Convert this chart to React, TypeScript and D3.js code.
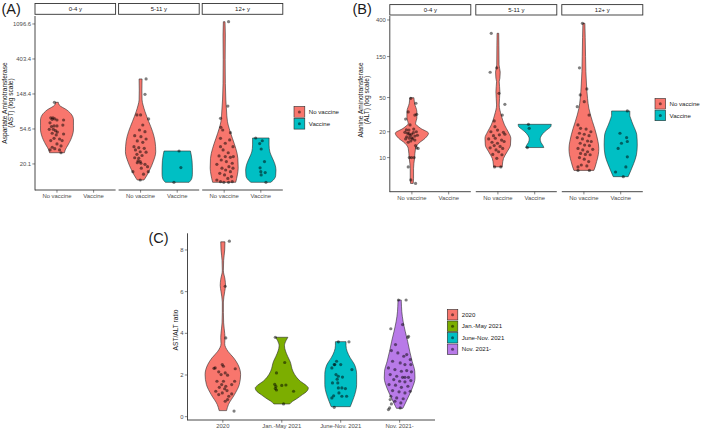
import React from 'react';
import * as d3 from 'd3';

// [value, half-width relative to the widest possible violin]
type Profile = [number, number][];
// [horizontal jitter in category steps, value]
type Jitter = [number, number][];

const FONT = '"Liberation Sans", Arial, Helvetica, sans-serif';

const ageGroups = ['0-4 y', '5-11 y', '12+ y'];
const vaccineStatus = ['No vaccine', 'Vaccine'];
const vaccineColors = ['#F8766D', '#00BFC4'];
const periods = ['2020', 'Jan.-May 2021', 'June-Nov. 2021', 'Nov. 2021-'];
const periodColors = ['#F8766D', '#7CAE00', '#00BFC4', '#B87AE8'];

const astTicks = [20.1, 54.6, 148.4, 403.4, 1096.6];
const altTicks = [10, 20, 50, 150, 400];
const ratioTicks = [0, 2, 4, 6, 8];
const astLimits = [9.55, 1377];
const altLimits = [4.01, 445];
const ratioLimits = [-0.16, 8.8];

// ---- AST (log scale) ----
const astYoungNoVacShape: Profile = [[117, 0.08], [108, 0.14], [94, 0.6], [81.5, 0.9], [70.6, 1.0], [61, 1.0], [53, 1.0], [46, 0.94], [40, 0.83], [34.6, 0.67], [30, 0.5], [27.7, 0.45]];
const astYoungNoVacDots: Jitter = [[-0.07, 117], [-0.17, 75], [-0.11, 75], [-0.06, 73], [-0.13, 72], [0, 70.6], [0.18, 70.6], [-0.19, 65], [-0.08, 59.5], [0, 59.5], [-0.15, 58.5], [0.16, 61], [-0.21, 54], [-0.1, 54], [-0.04, 52], [0.01, 50], [-0.13, 48.3], [0.18, 47.3], [-0.02, 46], [-0.08, 41.8], [0.07, 41], [0.14, 39.2], [-0.17, 39.2], [0, 35.6], [0.11, 33.6], [-0.13, 32.4], [-0.06, 31.1], [-0.19, 30], [0.07, 30], [0.11, 27.7]];

const astChildNoVacShape: Profile = [[228, 0.09], [166, 0.08], [125, 0.09], [108, 0.15], [89.5, 0.27], [67, 0.5], [50.6, 0.73], [38, 0.88], [28.5, 0.92], [21.5, 0.77], [16.9, 0.55], [13.3, 0.27], [12.7, 0.2]];
const astChildNoVacDots: Jitter = [[0.15, 228], [0.12, 147], [0.22, 72.7], [-0.1, 81.5], [0.0, 81.5], [0.06, 61.2], [-0.03, 53], [0.12, 50.6], [-0.16, 45.1], [0.01, 43.8], [0.15, 41], [-0.09, 38.8], [0.06, 37.3], [-0.18, 32.9], [-0.05, 32], [0.1, 31.4], [-0.14, 30], [-0.01, 28.5], [0.15, 28.1], [-0.1, 26.5], [0.04, 25.6], [-0.16, 24], [-0.05, 23.7], [-0.07, 21.9], [-0.01, 21.5], [-0.09, 20.8], [0.01, 20.5], [0.12, 19.9], [0.19, 18.6], [0.02, 17.8], [-0.21, 16.1], [0.08, 15], [0.21, 16.1], [-0.01, 12.7]];
const astChildVacShape: Profile = [[29.1, 0.8], [26, 0.85], [22, 0.9], [18, 0.92], [15, 0.92], [13.2, 0.88], [12.4, 0.8], [11.9, 0.72]];
const astChildVacDots: Jitter = [[0.05, 29.1], [0.1, 18.1], [-0.09, 11.9]];

const astTeenNoVacShape: Profile = [[1170, 0.05], [800, 0.07], [400, 0.06], [200, 0.07], [125, 0.1], [94, 0.14], [67, 0.2], [55.7, 0.3], [41.8, 0.5], [31.5, 0.7], [23.6, 0.83], [17.8, 0.85], [14.7, 0.8], [11.9, 0.7]];
const astTeenNoVacDots: Jitter = [[0.12, 1170], [0.1, 105], [-0.1, 74], [-0.09, 57.3], [-0.04, 53], [0.17, 49.1], [-0.1, 41.8], [0.15, 39.9], [0.03, 36.3], [-0.1, 32.9], [0.24, 32.9], [-0.03, 30], [0.11, 27.7], [-0.14, 25.3], [0.03, 24.8], [0.17, 24.3], [-0.08, 22.5], [0.06, 21.5], [0.22, 20.5], [-0.2, 19.9], [0.13, 18.6], [-0.06, 17.8], [0.04, 16.9], [0.17, 16.1], [-0.12, 15.4], [0.01, 14.7], [0.2, 14], [0.1, 13.3], [-0.1, 12.1], [-0.01, 11.9], [0.12, 11.9], [0.22, 12.1], [-0.2, 12.7], [0.24, 17.8], [0.25, 24.8]];
const astTeenVacShape: Profile = [[42.2, 0.5], [34.6, 0.5], [28.3, 0.55], [23.8, 0.7], [20.1, 0.85], [16.9, 0.92], [14.3, 0.9], [12.7, 0.76], [11.9, 0.6]];
const astTeenVacDots: Jitter = [[-0.14, 42.2], [0.04, 39], [-0.03, 36], [0.01, 30.8], [0.1, 21.5], [-0.02, 18], [0.0, 16.1], [0.12, 15.7], [0.01, 14.7], [0.14, 11.9]];

// ---- ALT (log scale) ----
const altYoungNoVacShape: Profile = [[49.8, 0.12], [42.9, 0.16], [34.2, 0.3], [28.7, 0.3], [25.1, 0.22], [21.9, 0.53], [19.2, 1.0], [16.8, 0.8], [14.7, 0.42], [12.8, 0.22], [9.8, 0.16], [7.5, 0.1], [5.74, 0.1], [5.0, 0.08]];
const altYoungNoVacDots: Jitter = [[-0.03, 49], [0.11, 42.9], [-0.17, 28.1], [0.08, 31.3], [0.13, 31.9], [-0.05, 24], [-0.08, 20.9], [-0.19, 19.7], [-0.12, 19.2], [-0.01, 18.7], [0.12, 20], [-0.14, 17.5], [-0.07, 16.8], [0.02, 16.5], [-0.17, 16.5], [-0.03, 15.6], [0.08, 16], [-0.1, 15.1], [0.1, 13.8], [0.13, 13], [0.17, 12.8], [-0.07, 10], [-0.01, 10], [0.06, 10], [-0.1, 7.8], [-0.03, 5.5], [0.1, 5.0], [-0.05, 18], [0.04, 19.5], [0.08, 17.8], [-0.15, 21], [0.15, 18.2], [0.0, 17], [-0.08, 19], [0.05, 21.5], [-0.1, 34]];

const altChildNoVacShape: Profile = [[280, 0.05], [200, 0.06], [120, 0.07], [99, 0.14], [84, 0.12], [76.5, 0.08], [58.5, 0.12], [41, 0.08], [31.3, 0.2], [24, 0.4], [20, 0.62], [16.8, 0.78], [14, 0.76], [11.7, 0.56], [9.8, 0.34], [8.2, 0.27], [7.8, 0.26]];
const altChildNoVacDots: Jitter = [[-0.18, 280], [-0.21, 98.5], [-0.03, 111], [0.03, 56], [0.19, 41.7], [0.12, 31.3], [-0.1, 26.7], [-0.08, 22.9], [-0.19, 20], [-0.01, 20.9], [0.15, 19.7], [-0.12, 18], [0.04, 18.4], [0.19, 18.7], [-0.25, 16.5], [-0.07, 16.8], [0.1, 16], [-0.16, 15.1], [-0.01, 14.7], [0.17, 15.4], [-0.1, 13.8], [0.06, 13.5], [-0.21, 13], [0.13, 12.8], [-0.05, 12.3], [0.02, 11.7], [-0.14, 10.9], [0.11, 10.8], [-0.03, 9.8], [-0.09, 7.8], [0.08, 7.8]];
const altChildVacShape: Profile = [[24.4, 1.0], [23, 0.97], [21.5, 0.8], [20, 0.6], [18, 0.4], [16.5, 0.33], [15, 0.38], [13.8, 0.5], [13.1, 0.55]];
const altChildVacDots: Jitter = [[-0.17, 24.4], [-0.15, 21.9], [-0.2, 13.1]];

const altTeenNoVacShape: Profile = [[366, 0.06], [250, 0.08], [150, 0.1], [100, 0.12], [70, 0.16], [49, 0.22], [37.5, 0.3], [31.3, 0.4], [26.2, 0.52], [21.9, 0.65], [18.4, 0.76], [15.4, 0.85], [12.8, 0.9], [10.8, 0.87], [9.0, 0.77], [7.8, 0.68], [7.1, 0.6]];
const altTeenNoVacDots: Jitter = [[-0.04, 366], [-0.12, 111], [0.08, 63], [-0.1, 53.6], [-0.18, 39.2], [0.01, 44.8], [0.14, 31.3], [-0.16, 24], [-0.09, 21.9], [0.06, 21.5], [0.19, 20], [-0.12, 19.2], [0.01, 18.7], [0.14, 18], [-0.18, 17.1], [-0.04, 16.5], [0.1, 15.6], [0.2, 15.4], [-0.1, 14.7], [0.02, 14], [0.15, 13.8], [-0.16, 12.8], [-0.03, 12.3], [0.1, 11.7], [0.24, 12.5], [-0.09, 11.2], [0.04, 10.9], [0.17, 10.8], [-0.12, 10], [0.01, 9.6], [0.13, 9.0], [-0.07, 8.2], [0.08, 8.0], [-0.16, 7.8], [-0.16, 7.1], [0.15, 7.1]];
const altTeenVacShape: Profile = [[34.9, 0.55], [31, 0.55], [28.7, 0.6], [24, 0.75], [20.5, 0.9], [18.4, 0.97], [14, 1.0], [10.8, 0.95], [8.5, 0.78], [7, 0.6], [6.0, 0.45]];
const altTeenVacDots: Jitter = [[0.18, 34.9], [-0.02, 19.2], [0.16, 17.1], [0.18, 15.4], [0.02, 14.7], [-0.07, 12.8], [0.18, 10.2], [0.14, 7.8], [-0.14, 6.8], [0.07, 6.0]];

// ---- AST/ALT ratio by period ----
const ratio2020Shape: Profile = [[8.39, 0.08], [8.0, 0.07], [7.5, 0.03], [7.0, 0.02], [6.6, 0.08], [6.3, 0.1], [6.0, 0.07], [5.5, 0.02], [5.0, 0.02], [4.5, 0.03], [4.0, 0.07], [3.8, 0.08], [3.5, 0.07], [3.14, 0.19], [2.82, 0.41], [2.5, 0.57], [2.02, 0.67], [1.54, 0.62], [1.06, 0.44], [0.58, 0.21], [0.29, 0.14]];
const ratio2020Dots: Jitter = [[0.11, 8.42], [0.04, 6.26], [0.05, 3.78], [-0.01, 2.5], [0.01, 2.42], [-0.13, 2.34], [0.21, 2.3], [-0.07, 2.15], [0.04, 2.1], [-0.03, 2.02], [0.08, 1.99], [-0.1, 1.7], [0.01, 1.7], [0.2, 1.7], [-0.02, 1.54], [0.05, 1.46], [0.15, 1.54], [-0.06, 1.41], [0.03, 1.34], [-0.12, 1.22], [0.07, 1.25], [-0.01, 1.14], [0.15, 1.09], [0.1, 0.98], [-0.07, 1.06], [0.08, 0.82], [0.04, 0.74], [0.19, 0.27], [-0.15, 2.32]];
const ratioEarly2021Shape: Profile = [[3.81, 0.23], [3.65, 0.16], [3.4, 0.1], [3.15, 0.14], [2.9, 0.22], [2.66, 0.31], [2.18, 0.42], [1.9, 0.55], [1.7, 0.7], [1.5, 0.92], [1.38, 1.0], [1.2, 0.93], [1.06, 0.78], [0.85, 0.55], [0.74, 0.41], [0.61, 0.3]];
const ratioEarly2021Dots: Jitter = [[-0.11, 3.81], [0.05, 2.6], [-0.09, 2.1], [-0.12, 1.55], [-0.1, 1.45], [-0.11, 1.35], [-0.09, 1.28], [0.07, 1.52], [0.2, 1.22], [0.03, 0.61], [0.0, 1.5]];
const ratioLate2021Shape: Profile = [[3.6, 0.2], [3.4, 0.2], [3.14, 0.24], [2.82, 0.36], [2.5, 0.52], [2.02, 0.6], [1.54, 0.6], [1.06, 0.53], [0.74, 0.44], [0.48, 0.36]];
const ratioLate2021Dots: Jitter = [[-0.04, 3.59], [0.14, 3.59], [-0.07, 2.66], [-0.11, 2.5], [-0.15, 2.34], [-0.08, 2.02], [-0.04, 1.94], [0.19, 2.26], [-0.14, 1.62], [-0.05, 1.62], [-0.04, 1.38], [0.02, 1.38], [0.08, 1.35], [-0.03, 1.14], [-0.15, 0.9], [0.02, 0.98], [0.1, 0.98], [-0.11, 0.45], [-0.1, 2.5], [0.0, 2.5], [-0.06, 1.8], [0.03, 1.9], [-0.12, 1.0]];
const ratioOmicronShape: Profile = [[5.6, 0.06], [5.3, 0.07], [5.06, 0.08], [4.58, 0.13], [4.1, 0.21], [3.62, 0.3], [3.14, 0.38], [2.66, 0.47], [2.18, 0.57], [1.86, 0.58], [1.38, 0.48], [0.9, 0.31], [0.5, 0.16], [0.4, 0.12]];
const ratioOmicronDots: Jitter = [[-0.02, 5.6], [0.11, 5.6], [-0.15, 4.22], [0.05, 4.42], [0.15, 3.86], [0.14, 3.8], [-0.07, 3.46], [-0.14, 3.17], [-0.03, 3.06], [0.07, 2.9], [0.12, 2.98], [0.18, 2.74], [-0.12, 2.66], [0.01, 2.58], [0.09, 2.5], [0.19, 2.5], [-0.19, 2.34], [-0.08, 2.26], [0.03, 2.18], [0.12, 2.21], [0.2, 2.15], [-0.16, 2.02], [-0.05, 1.94], [0.05, 1.89], [0.09, 1.89], [0.15, 1.89], [-0.1, 1.78], [0, 1.7], [0.09, 1.67], [0.19, 1.73], [-0.18, 1.54], [-0.07, 1.51], [0.03, 1.41], [0.14, 1.46], [-0.12, 1.25], [-0.01, 1.19], [0.09, 1.14], [0.18, 1.22], [-0.15, 0.98], [-0.05, 0.9], [0.06, 0.86], [-0.08, 0.74], [0.02, 0.66], [-0.16, 0.82], [-0.17, 0.42], [-0.14, 0.61], [0.01, 0.42], [-0.19, 0.34]];

interface ViolinSpec { facet: number; category: string; color: string; shape: Profile; dots: Jitter; }
interface FacetSpec { label?: string; left: number; width: number; }
interface PanelSpec {
  facets: FacetSpec[];
  categories: string[];
  y: (v: number) => number;
  top: number;
  bottom: number;
  ticks: number[];
  tickFormat: (v: number) => string;
  violins: ViolinSpec[];
  title: string[];
  titleX: number[];
  titleY: number;
  stripY: number;
  stripH: number;
  labelGap: number;
  legend: { x: number; y: number; key: number; items: string[]; colors: string[] };
}

const astY = d3.scaleLog().domain(astLimits).range([190, 16]);
const altY = d3.scaleLog().domain(altLimits).range([191.7, 16]);
const ratioY = d3.scaleLinear().domain(ratioLimits).range([420, 233.3]);

const ageFacetsA: FacetSpec[] = ageGroups.map((label, i) => ({ label, left: 35 + i * 83.6, width: 80.6 }));
const ageFacetsB: FacetSpec[] = ageGroups.map((label, i) => ({ label, left: 389.8 + i * 86, width: 81 }));

const astPanel: PanelSpec = {
  facets: ageFacetsA,
  categories: vaccineStatus,
  y: astY,
  top: 16,
  bottom: 190,
  ticks: astTicks,
  tickFormat: v => v.toFixed(1),
  violins: [
    { facet: 0, category: vaccineStatus[0], color: vaccineColors[0], shape: astYoungNoVacShape, dots: astYoungNoVacDots },
    { facet: 1, category: vaccineStatus[0], color: vaccineColors[0], shape: astChildNoVacShape, dots: astChildNoVacDots },
    { facet: 1, category: vaccineStatus[1], color: vaccineColors[1], shape: astChildVacShape, dots: astChildVacDots },
    { facet: 2, category: vaccineStatus[0], color: vaccineColors[0], shape: astTeenNoVacShape, dots: astTeenNoVacDots },
    { facet: 2, category: vaccineStatus[1], color: vaccineColors[1], shape: astTeenVacShape, dots: astTeenVacDots },
  ],
  title: ['Aspartate Aminotransferase', '(AST) (log scale)'],
  titleX: [7.0, 12.6],
  titleY: 103,
  stripY: 3.5,
  stripH: 10.8,
  labelGap: 8.3,
  legend: { x: 293.5, y: 106, key: 11.8, items: vaccineStatus, colors: vaccineColors },
};

const altPanel: PanelSpec = {
  facets: ageFacetsB,
  categories: vaccineStatus,
  y: altY,
  top: 16,
  bottom: 191.7,
  ticks: altTicks,
  tickFormat: v => String(v),
  violins: [
    { facet: 0, category: vaccineStatus[0], color: vaccineColors[0], shape: altYoungNoVacShape, dots: altYoungNoVacDots },
    { facet: 1, category: vaccineStatus[0], color: vaccineColors[0], shape: altChildNoVacShape, dots: altChildNoVacDots },
    { facet: 1, category: vaccineStatus[1], color: vaccineColors[1], shape: altChildVacShape, dots: altChildVacDots },
    { facet: 2, category: vaccineStatus[0], color: vaccineColors[0], shape: altTeenNoVacShape, dots: altTeenNoVacDots },
    { facet: 2, category: vaccineStatus[1], color: vaccineColors[1], shape: altTeenVacShape, dots: altTeenVacDots },
  ],
  title: ['Alanine Aminotransferase', '(ALT) (log scale)'],
  titleX: [363.4, 369.0],
  titleY: 100,
  stripY: 4.6,
  stripH: 10.4,
  labelGap: 7.9,
  legend: { x: 654.5, y: 98, key: 11.6, items: vaccineStatus, colors: vaccineColors },
};

const ratioPanel: PanelSpec = {
  facets: [{ left: 187.5, width: 247.5 }],
  categories: periods,
  y: ratioY,
  top: 233.3,
  bottom: 420,
  ticks: ratioTicks,
  tickFormat: v => String(v),
  violins: [
    { facet: 0, category: periods[0], color: periodColors[0], shape: ratio2020Shape, dots: ratio2020Dots },
    { facet: 0, category: periods[1], color: periodColors[1], shape: ratioEarly2021Shape, dots: ratioEarly2021Dots },
    { facet: 0, category: periods[2], color: periodColors[2], shape: ratioLate2021Shape, dots: ratioLate2021Dots },
    { facet: 0, category: periods[3], color: periodColors[3], shape: ratioOmicronShape, dots: ratioOmicronDots },
  ],
  title: ['AST/ALT ratio'],
  titleX: [177.6],
  titleY: 330,
  stripY: 0,
  stripH: 0,
  labelGap: 8.2,
  legend: { x: 446.8, y: 309, key: 11.5, items: periods, colors: periodColors },
};

const TICK = 2.7;

function Panel({ p }: { p: PanelSpec }) {
  const xs = p.facets.map(f =>
    d3.scalePoint<string>().domain(p.categories).range([f.left, f.left + f.width]).padding(0.6)
  );
  const axisLeft = p.facets[0].left;

  const violinPath = (v: ViolinSpec) => {
    const sx = xs[v.facet];
    const cx = sx(v.category) as number;
    const half = sx.step() * 0.45;
    return d3
      .area<[number, number]>()
      .y(d => p.y(d[0]))
      .x0(d => cx - d[1] * half)
      .x1(d => cx + d[1] * half)
      .curve(d3.curveMonotoneY)(v.shape) as string;
  };

  return (
    <g>
      {p.facets.map((f, i) =>
        f.label ? (
          <g key={'strip' + i}>
            <rect x={f.left} y={p.stripY} width={f.width} height={p.stripH} fill="#fff" stroke="#333" strokeWidth={0.9} />
            <text x={f.left + f.width / 2} y={p.stripY + p.stripH / 2 + 2.1} fontSize={6} textAnchor="middle" fill="#1a1a1a">
              {f.label}
            </text>
          </g>
        ) : null
      )}

      {p.violins.map((v, i) => (
        <path key={'v' + i} d={violinPath(v)} fill={v.color} stroke="#2b2b2b" strokeWidth={0.6} strokeLinejoin="round" />
      ))}

      {p.violins.map((v, i) => {
        const sx = xs[v.facet];
        const cx = sx(v.category) as number;
        return (
          <g key={'d' + i}>
            {v.dots.map((d, j) => (
              <circle key={j} cx={cx + d[0] * sx.step()} cy={p.y(d[1])} r={1.6} fill="#000" fillOpacity={0.5} />
            ))}
          </g>
        );
      })}

      {/* y axis */}
      <line x1={axisLeft} x2={axisLeft} y1={p.top} y2={p.bottom + 0.4} stroke="#333" strokeWidth={0.9} />
      {p.ticks.map(t => (
        <g key={'yt' + t}>
          <line x1={axisLeft - TICK} x2={axisLeft} y1={p.y(t)} y2={p.y(t)} stroke="#333" strokeWidth={0.6} />
          <text x={axisLeft - TICK - 1.2} y={p.y(t) + 2.1} fontSize={5.9} textAnchor="end" fill="#4d4d4d">
            {p.tickFormat(t)}
          </text>
        </g>
      ))}

      {/* x axes, one per facet */}
      {p.facets.map((f, i) => (
        <g key={'xa' + i}>
          <line x1={f.left} x2={f.left + f.width} y1={p.bottom} y2={p.bottom} stroke="#333" strokeWidth={0.9} />
          {p.categories.map(c => {
            const x = xs[i](c) as number;
            return (
              <g key={c}>
                <line x1={x} x2={x} y1={p.bottom} y2={p.bottom + TICK} stroke="#333" strokeWidth={0.6} />
                <text x={x} y={p.bottom + p.labelGap} fontSize={5.9} textAnchor="middle" fill="#4d4d4d">
                  {c}
                </text>
              </g>
            );
          })}
        </g>
      ))}

      {/* axis title */}
      {p.title.map((t, i) => (
        <text
          key={'title' + i}
          transform={`translate(${p.titleX[i]},${p.titleY}) rotate(-90)`}
          fontSize={6.6}
          textAnchor="middle"
          fill="#1a1a1a"
        >
          {t}
        </text>
      ))}

      {/* legend */}
      {p.legend.items.map((item, i) => {
        const k = p.legend.key;
        const y0 = p.legend.y + i * k;
        return (
          <g key={'lg' + i}>
            <rect x={p.legend.x} y={y0} width={k} height={k} fill="#fff" />
            <rect x={p.legend.x + 0.5} y={y0 + 0.5} width={k - 1} height={k - 1} fill={p.legend.colors[i]} stroke="#2b2b2b" strokeWidth={0.6} />
            <circle cx={p.legend.x + k / 2} cy={y0 + k / 2} r={1.5} fill="#000" fillOpacity={0.5} />
            <text x={p.legend.x + k + 3.5} y={y0 + k / 2 + 2.1} fontSize={6.1} fill="#1a1a1a">
              {item}
            </text>
          </g>
        );
      })}
    </g>
  );
}

export default function App() {
  return (
    <svg
      width={702}
      height={431}
      viewBox="0 0 702 431"
      style={{ position: 'absolute', left: 0, top: 0, display: 'block', background: '#fff', fontFamily: FONT }}
    >
      <rect width={702} height={431} fill="#fff" />
      <Panel p={astPanel} />
      <Panel p={altPanel} />
      <Panel p={ratioPanel} />
      <text x={1.5} y={13.6} fontSize={14.5} fill="#1a1a1a">(A)</text>
      <text x={352.5} y={13.6} fontSize={14.5} fill="#1a1a1a">(B)</text>
      <text x={148.5} y={243} fontSize={14.5} fill="#1a1a1a">(C)</text>
    </svg>
  );
}
